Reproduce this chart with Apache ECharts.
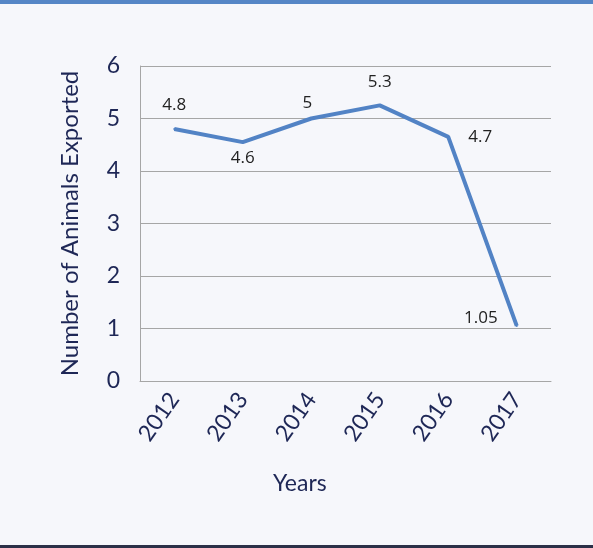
<!DOCTYPE html>
<html><head><meta charset="utf-8">
<script src="https://cdn.jsdelivr.net/npm/echarts@6/dist/echarts.min.js"></script>
<style>html,body{margin:0;padding:0;background:#f6f7fb;}#c{width:593px;height:548px;}</style>
</head><body><div id="c"></div>
<script>
const categories = ['2012','2013','2014','2015','2016','2017'];
const values = [4.8, 4.55, 5.0, 5.25, 4.65, 1.05];
const valueLabels = ['4.8','4.6','5','5.3','4.7','1.05'];
const yTicks = [0,1,2,3,4,5,6];

// label placement (style only)
const labelPositions = ['top','bottom','top','top','right','left'];
const labelOffsets = [[0,0],[0,-7],[-4,8],[0,0],[5,0],[-4,-8]];

const chart = echarts.init(document.getElementById('c'));
const navy = '#1e2756';
chart.setOption({
  backgroundColor: '#f6f7fb',
  animation: false,
  graphic: [
    {type:'rect', left:0, top:0, shape:{width:593, height:4}, style:{fill:'#5586c6'}},
    {type:'rect', left:0, top:545, shape:{width:593, height:3}, style:{fill:'#2b3047'}},
    {type:'text', left:273, top:472, style:{text:'Years', fontFamily:'Lato', fontSize:23, fill:navy}}
  ],
  grid: {left:140, right:42, top:66, bottom:167, containLabel:false},
  xAxis: {
    type:'category', data: categories, boundaryGap:true,
    axisLine:{show:true, lineStyle:{color:'#a6a6a6', width:1}},
    axisTick:{show:false},
    axisLabel:{rotate:55, fontFamily:'Lato', fontSize:23, color:navy, margin:14}
  },
  yAxis: {
    type:'value', min:0, max:6, interval:1,
    name:'Number of Animals Exported', nameLocation:'middle', nameGap:58,
    nameTextStyle:{fontFamily:'Lato', fontSize:24, color:navy},
    axisLine:{show:true, lineStyle:{color:'#a6a6a6', width:1}},
    axisTick:{show:false},
    splitLine:{lineStyle:{color:'#a6a6a6', width:1}},
    axisLabel:{fontFamily:'Lato', fontSize:23, color:navy, margin:20,
      formatter: v => yTicks.includes(v) ? String(v) : ''}
  },
  series: [{
    type:'line',
    data: values.map((v,i)=>({value:v, label:{show:true, position:labelPositions[i], offset:labelOffsets[i], formatter: valueLabels[i]}})),
    showSymbol:true, symbol:'circle', symbolSize:2,
    itemStyle:{color:'#5283c5', borderWidth:0},
    lineStyle:{color:'#5283c5', width:4},
    label:{show:true, fontFamily:'Open Sans', fontSize:17, color:'#222', distance:14}
  }]
});
</script></body></html>
